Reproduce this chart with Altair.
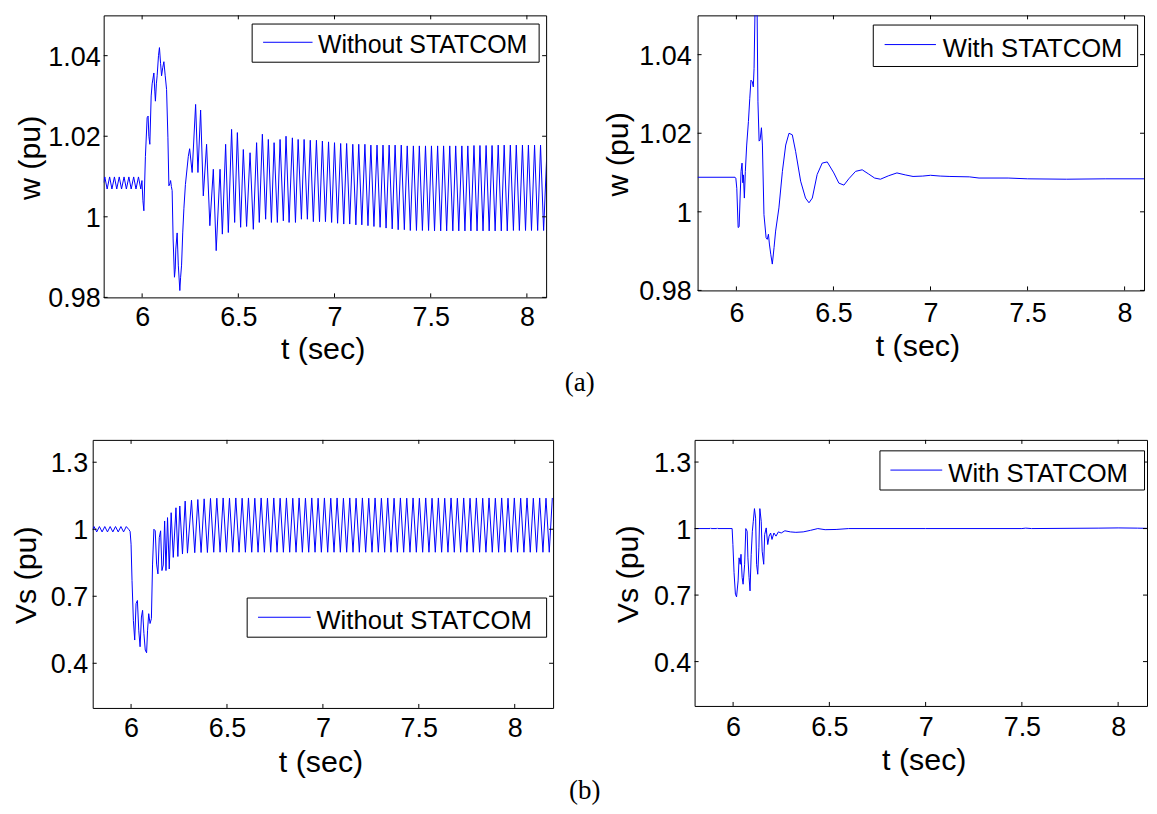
import altair as alt
import pandas as pd

# ---------------- values ----------------
X_TICKS = [6, 6.5, 7, 7.5, 8]
W_TICKS = [0.98, 1.0, 1.02, 1.04]
VS_TICKS = [0.4, 0.7, 1.0, 1.3]
LABEL_WITHOUT = "Without STATCOM"
LABEL_WITH = "With STATCOM"

# (a) left: rotor speed w (pu) without STATCOM  -- (t, w) turning points
w_without = [
    (5.800, 1.0085), (5.806, 1.0099), (5.818, 1.0069), (5.831, 1.0099), (5.843, 1.0069),
    (5.856, 1.0099), (5.868, 1.0069), (5.881, 1.0099), (5.893, 1.0069), (5.906, 1.0099),
    (5.918, 1.0069), (5.931, 1.0099), (5.943, 1.0069), (5.956, 1.0099), (5.968, 1.0069),
    (5.981, 1.0099), (5.993, 1.0069), (5.999, 1.0090),
    (6.004, 1.0040), (6.009, 1.0015), (6.017, 1.0150), (6.026, 1.0246), (6.031, 1.0250),
    (6.035, 1.0200), (6.040, 1.0180), (6.047, 1.0300), (6.052, 1.0330), (6.061, 1.0357),
    (6.066, 1.0310), (6.069, 1.0287), (6.074, 1.0330), (6.078, 1.0350), (6.085, 1.0400),
    (6.090, 1.0420), (6.096, 1.0380), (6.101, 1.0350), (6.107, 1.0370), (6.113, 1.0385),
    (6.120, 1.0350), (6.127, 1.0316), (6.134, 1.0196), (6.139, 1.0077), (6.144, 1.0082),
    (6.148, 1.0090), (6.152, 1.0075), (6.156, 1.0065), (6.161, 0.9945), (6.168, 0.9850),
    (6.172, 0.9870), (6.175, 0.9920), (6.182, 0.9960), (6.185, 0.9920), (6.188, 0.9880),
    (6.196, 0.9817), (6.200, 0.9850), (6.205, 0.9880), (6.211, 0.9960), (6.217, 1.0020),
    (6.225, 1.0080), (6.240, 1.0150), (6.247, 1.0169), (6.260, 1.0110), (6.278, 1.0279),
    (6.290, 1.0110), (6.304, 1.0265), (6.318, 1.0052), (6.335, 1.0180), (6.352, 0.9978),
    (6.370, 1.0118), (6.385, 0.9916), (6.405, 1.0118), (6.417, 0.9957), (6.434, 1.0180),
    (6.448, 0.9961), (6.465, 1.0217), (6.481, 0.9986), (6.495, 1.0209), (6.512, 0.9974),
    (6.526, 1.0167), (6.543, 0.9976), (6.561, 1.0159), (6.578, 0.9969), (6.595, 1.0184),
    (6.609, 0.9986), (6.625, 1.0205), (6.642, 0.9994), (6.656, 1.0192), (6.672, 0.9986),
    (6.686, 1.0184), (6.703, 0.9986), (6.717, 1.0192), (6.734, 0.9990), (6.748, 1.0200),
    (6.764, 0.9986), (6.781, 1.0196), (6.797, 0.9986), (6.811, 1.0192), (6.828, 0.9994),
    (6.842, 1.0192), (6.859, 0.9994), (6.874, 1.0190), (6.890, 0.9988), (6.906, 1.0190),
    (6.922, 0.9988), (6.937, 1.0188), (6.953, 0.9988), (6.969, 1.0186), (6.985, 0.9986),
    (7.000, 1.0184), (7.016, 0.9984), (7.032, 1.0182), (7.048, 0.9982), (7.063, 1.0182),
    (7.079, 0.9982), (7.095, 1.0180), (7.111, 0.9980), (7.126, 1.0180), (7.142, 0.9980),
    (7.158, 1.0180), (7.174, 0.9978), (7.189, 1.0178), (7.205, 0.9976), (7.221, 1.0178),
    (7.237, 0.9974), (7.252, 1.0178), (7.268, 0.9972), (7.284, 1.0178), (7.300, 0.9970),
    (7.315, 1.0178), (7.331, 0.9968), (7.347, 1.0178), (7.363, 0.9968), (7.378, 1.0176),
    (7.394, 0.9966), (7.410, 1.0176), (7.426, 0.9966), (7.441, 1.0176), (7.457, 0.9966),
    (7.473, 1.0176), (7.489, 0.9966), (7.504, 1.0176), (7.520, 0.9965), (7.536, 1.0176),
    (7.552, 0.9965), (7.567, 1.0176), (7.583, 0.9965), (7.599, 1.0176), (7.615, 0.9965),
    (7.630, 1.0176), (7.646, 0.9965), (7.662, 1.0176), (7.678, 0.9965), (7.693, 1.0176),
    (7.709, 0.9965), (7.725, 1.0177), (7.741, 0.9965), (7.756, 1.0177), (7.772, 0.9965),
    (7.788, 1.0177), (7.804, 0.9965), (7.819, 1.0177), (7.835, 0.9965), (7.851, 1.0178),
    (7.867, 0.9965), (7.882, 1.0178), (7.898, 0.9965), (7.914, 1.0178), (7.930, 0.9966),
    (7.945, 1.0178), (7.961, 0.9966), (7.977, 1.0178), (7.993, 0.9966), (8.008, 1.0178),
    (8.024, 0.9966), (8.040, 1.0178), (8.056, 0.9966), (8.071, 1.0178), (8.087, 0.9966),
    (8.103, 1.0150),
]

# (a) right: rotor speed w (pu) with STATCOM
w_with = [
    (5.800, 1.0088), (5.993, 1.0088), (5.997, 1.0086), (6.002, 1.0060), (6.009, 0.9960),
    (6.014, 0.9962), (6.019, 1.0035), (6.024, 1.0103), (6.029, 1.0124), (6.033, 1.0074),
    (6.036, 1.0094), (6.041, 1.0035), (6.046, 1.0103), (6.053, 1.0170), (6.062, 1.0230),
    (6.069, 1.0289), (6.075, 1.0335), (6.082, 1.0331), (6.087, 1.0318), (6.091, 1.0365),
    (6.098, 1.0580), (6.105, 1.0600), (6.111, 1.0280), (6.117, 1.0180), (6.122, 1.0183),
    (6.129, 1.0214), (6.134, 1.0170), (6.142, 0.9993), (6.153, 0.9934), (6.159, 0.9930),
    (6.165, 0.9943), (6.170, 0.9918), (6.177, 0.9892), (6.185, 0.9867), (6.194, 0.9909),
    (6.202, 0.9951), (6.219, 1.0010), (6.237, 1.0103), (6.254, 1.0170), (6.271, 1.0200),
    (6.288, 1.0196), (6.305, 1.0154), (6.331, 1.0078), (6.356, 1.0035), (6.374, 1.0023),
    (6.391, 1.0035), (6.416, 1.0095), (6.442, 1.0124), (6.468, 1.0127), (6.502, 1.0099),
    (6.528, 1.0073), (6.554, 1.0068), (6.579, 1.0084), (6.614, 1.0103), (6.648, 1.0107),
    (6.682, 1.0096), (6.712, 1.0086), (6.742, 1.0083), (6.785, 1.0092), (6.827, 1.0099),
    (6.870, 1.0094), (6.910, 1.0090), (6.960, 1.0091), (7.000, 1.0093), (7.050, 1.0091),
    (7.100, 1.0090), (7.200, 1.0089), (7.250, 1.0086), (7.400, 1.0086), (7.500, 1.0084),
    (7.700, 1.0083), (7.900, 1.0084), (8.100, 1.0084),
]

# (b) left: terminal voltage Vs (pu) without STATCOM
vs_without = [
    (5.800, 0.995), (5.807, 1.012), (5.821, 0.988), (5.835, 1.012), (5.849, 0.988),
    (5.863, 1.012), (5.877, 0.988), (5.891, 1.012), (5.905, 0.988), (5.919, 1.012),
    (5.933, 0.988), (5.947, 1.012), (5.961, 0.988), (5.975, 1.012), (5.989, 0.998),
    (5.995, 0.990), (6.000, 0.933), (6.005, 0.770), (6.012, 0.592), (6.019, 0.504),
    (6.026, 0.667), (6.033, 0.681), (6.040, 0.548), (6.047, 0.474), (6.054, 0.607),
    (6.060, 0.637), (6.067, 0.533), (6.074, 0.459), (6.081, 0.447), (6.086, 0.548),
    (6.092, 0.622), (6.099, 0.578), (6.106, 0.600), (6.112, 0.844), (6.119, 1.000),
    (6.126, 0.993), (6.133, 0.844), (6.140, 0.800), (6.147, 0.963), (6.154, 0.993),
    (6.161, 0.815), (6.168, 0.840), (6.175, 1.037), (6.182, 0.815), (6.190, 1.052),
    (6.199, 0.822), (6.209, 1.074), (6.220, 0.874), (6.234, 1.096), (6.244, 0.878),
    (6.254, 1.104), (6.268, 0.889), (6.282, 1.126), (6.294, 0.893),
    (6.315, 1.130), (6.332, 0.895), (6.348, 1.133), (6.365, 0.896), (6.381, 1.136),
    (6.398, 0.896), (6.414, 1.138), (6.431, 0.897), (6.447, 1.139), (6.464, 0.897),
    (6.480, 1.140), (6.497, 0.897), (6.513, 1.139), (6.530, 0.897), (6.546, 1.140),
    (6.563, 0.897), (6.579, 1.139), (6.596, 0.897), (6.612, 1.140), (6.629, 0.897),
    (6.645, 1.139), (6.662, 0.897), (6.678, 1.140), (6.695, 0.897), (6.711, 1.139),
    (6.728, 0.897), (6.744, 1.140), (6.761, 0.897), (6.777, 1.139), (6.794, 0.897),
    (6.810, 1.140), (6.827, 0.897), (6.843, 1.139), (6.860, 0.897), (6.876, 1.140),
    (6.893, 0.897), (6.909, 1.139), (6.926, 0.897), (6.942, 1.140), (6.959, 0.897),
    (6.975, 1.139), (6.992, 0.897), (7.008, 1.140), (7.025, 0.897), (7.041, 1.139),
    (7.058, 0.897), (7.074, 1.140), (7.091, 0.897), (7.107, 1.139), (7.124, 0.897),
    (7.140, 1.140), (7.157, 0.897), (7.173, 1.139), (7.190, 0.897), (7.206, 1.140),
    (7.223, 0.897), (7.239, 1.139), (7.256, 0.897), (7.272, 1.140), (7.289, 0.897),
    (7.305, 1.139), (7.322, 0.897), (7.338, 1.140), (7.355, 0.897), (7.371, 1.139),
    (7.388, 0.897), (7.404, 1.140), (7.421, 0.897), (7.437, 1.139), (7.454, 0.897),
    (7.470, 1.140), (7.487, 0.897), (7.503, 1.139), (7.520, 0.897), (7.536, 1.140),
    (7.553, 0.897), (7.569, 1.139), (7.586, 0.897), (7.602, 1.140), (7.619, 0.897),
    (7.635, 1.139), (7.652, 0.897), (7.668, 1.140), (7.685, 0.897), (7.701, 1.139),
    (7.718, 0.897), (7.734, 1.140), (7.751, 0.897), (7.767, 1.139), (7.784, 0.897),
    (7.800, 1.140), (7.817, 0.897), (7.833, 1.139), (7.850, 0.897), (7.866, 1.140),
    (7.883, 0.897), (7.899, 1.139), (7.916, 0.897), (7.932, 1.140), (7.949, 0.897),
    (7.965, 1.139), (7.982, 0.897), (7.998, 1.140), (8.015, 0.897), (8.031, 1.139),
    (8.048, 0.897), (8.064, 1.140), (8.081, 0.897), (8.097, 1.139), (8.114, 0.897),
    (8.130, 1.140), (8.147, 0.897), (8.163, 1.139), (8.180, 0.897), (8.196, 1.140),
]

# (b) right: terminal voltage Vs (pu) with STATCOM
vs_with = [
    (5.800, 1.000), (5.880, 1.000), (5.883, 1.003), (5.886, 1.000), (5.915, 1.000),
    (5.918, 1.003), (5.921, 1.000), (5.995, 1.000), (5.999, 0.928), (6.005, 0.801),
    (6.012, 0.704), (6.018, 0.692), (6.026, 0.764), (6.031, 0.868), (6.037, 0.839),
    (6.041, 0.884), (6.047, 0.779), (6.052, 0.749), (6.060, 0.839), (6.066, 1.000),
    (6.073, 0.988), (6.077, 0.868), (6.083, 0.779), (6.088, 0.719), (6.094, 0.884),
    (6.100, 0.988), (6.105, 1.033), (6.111, 1.090), (6.117, 1.047), (6.122, 0.839),
    (6.128, 0.794), (6.134, 0.913), (6.139, 1.090), (6.146, 1.033), (6.151, 0.898),
    (6.159, 0.839), (6.164, 0.973), (6.172, 1.003), (6.180, 0.928), (6.187, 0.966),
    (6.195, 0.980), (6.202, 0.951), (6.212, 0.980), (6.223, 0.966), (6.235, 0.985),
    (6.250, 0.980), (6.269, 0.990), (6.298, 0.985), (6.326, 0.983), (6.364, 0.985),
    (6.402, 0.992), (6.440, 1.000), (6.478, 0.995), (6.535, 0.996), (6.600, 1.000),
    (7.000, 1.000), (7.500, 1.000), (7.520, 1.002), (7.550, 1.000), (7.900, 1.002),
    (8.000, 1.003), (8.100, 1.002), (8.200, 1.000),
]

# ---------------- styling ----------------
BLUE = "#0000ff"
SANS = "Liberation Sans"
SERIF = "Liberation Serif"


def frame_rules(w, h, ext):
    """Invisible rules that pin a view's layout extent (left, right, top, bottom)."""
    fr = alt.Chart(pd.DataFrame({"k": [0]}))
    return [
        fr.mark_rule(strokeWidth=0, opacity=0).encode(
            x=alt.value(-ext[0]), x2=alt.value(w + ext[1]), y=alt.value(h / 2)),
        fr.mark_rule(strokeWidth=0, opacity=0).encode(
            y=alt.value(-ext[2]), y2=alt.value(h + ext[3]), x=alt.value(w / 2)),
    ]


def panel(points, label, xdom, ydom, yticks, ytitle, w, h, lay):
    df = pd.DataFrame(points, columns=["t", "v"])
    df["i"] = range(len(df))
    xs = alt.Scale(domain=xdom, nice=False, zero=False)
    ys = alt.Scale(domain=ydom, nice=False, zero=False)
    xax = alt.Axis(values=X_TICKS, format="~g", title="t (sec)", domain=False, ticks=False,
                   grid=False, labelPadding=lay["xlp"], labelFlush=False, labelOverlap=False,
                   titleX=lay["xtx"], titleY=lay["xty"], titleBaseline="top", titleAlign="center")
    yax = alt.Axis(values=yticks, format="~g", title=ytitle, domain=False, ticks=False,
                   grid=False, labelPadding=lay["ylp"], labelOffset=1.5, labelFlush=False,
                   labelOverlap=False, titleX=lay["ytx"], titleY=h / 2 + 1, titleAngle=270,
                   titleBaseline="bottom", titleAlign="center")
    line = alt.Chart(df).mark_line(color=BLUE, strokeWidth=1, clip=True).encode(
        x=alt.X("t:Q", scale=xs, axis=xax),
        y=alt.Y("v:Q", scale=ys, axis=yax),
        order=alt.Order("i:Q"),
    )
    # MATLAB-style inward ticks on all four sides
    xt = alt.Chart(pd.DataFrame({"t": X_TICKS}))
    yt = alt.Chart(pd.DataFrame({"v": yticks}))
    tk = dict(color="black", strokeWidth=1)
    ticks = [
        xt.mark_rule(**tk).encode(x="t:Q", y=alt.value(h - 4), y2=alt.value(h)),
        xt.mark_rule(**tk).encode(x="t:Q", y=alt.value(0), y2=alt.value(4)),
        yt.mark_rule(**tk).encode(y="v:Q", x=alt.value(0), x2=alt.value(4)),
        yt.mark_rule(**tk).encode(y="v:Q", x=alt.value(w - 4), x2=alt.value(w)),
    ]
    # legend box
    lb = alt.Chart(pd.DataFrame({"label": [label]}))
    box = lb.mark_rect(fill="white", stroke="black", strokeWidth=1).encode(
        x=alt.value(lay["bx0"]), x2=alt.value(lay["bx1"]),
        y=alt.value(lay["by0"]), y2=alt.value(lay["by1"]))
    sym = lb.mark_rule(color=BLUE, strokeWidth=1).encode(
        x=alt.value(lay["lx0"]), x2=alt.value(lay["lx1"]), y=alt.value(lay["ly"]))
    txt = lb.mark_text(align="left", baseline="middle", font=SANS, fontSize=lay["fs"],
                       color="black").encode(
        x=alt.value(lay["tx"]), y=alt.value(lay["ty"]), text="label:N")
    return alt.layer(line, *ticks, box, sym, txt, *frame_rules(w, h, lay["ext"])).properties(
        width=w, height=h)


def spacer():
    sp = alt.Chart(pd.DataFrame({"k": [0]})).mark_rule(strokeWidth=0, opacity=0).encode(
        x=alt.value(0), x2=alt.value(1), y=alt.value(0))
    return sp.properties(width=1, height=1,
                         view=alt.ViewBackground(stroke="transparent", strokeWidth=0))


p1 = panel(w_without, LABEL_WITHOUT, [5.8, 8.1], [0.98, 1.05], W_TICKS, "w (pu)", 444, 283,
           dict(xlp=7.2, xtx=219.7, xty=37.8, ylp=3.5, ytx=-58.2,
                bx0=149, bx1=437, by0=8.7, by1=47, lx0=160, lx1=209.6, ly=27,
                tx=215, ty=30.2, fs=25, ext=(94, 2, 2, 70)))
p2 = panel(w_with, LABEL_WITH, [5.8, 8.1], [0.98, 1.05], W_TICKS, "w (pu)", 448, 276,
           dict(xlp=10.0, xtx=220.6, xty=41.5, ylp=6.5, ytx=-64,
                bx0=176.3, bx1=441.6, by0=9.7, by1=51.3, lx0=187.7, lx1=239.2, ly=29.3,
                tx=246, ty=33.5, fs=25.7, ext=(148, 2, 2, 77)))
p3 = panel(vs_without, LABEL_WITHOUT, [5.8, 8.2], [0.2, 1.4], VS_TICKS, "Vs (pu)", 462, 269,
           dict(xlp=7.7, xtx=228.6, xty=39.6, ylp=5, ytx=-51.8,
                bx0=155, bx1=455.5, by0=158.7, by1=198, lx0=165.9, lx1=218.8, ly=178,
                tx=224.5, ty=181.8, fs=25.7, ext=(83, 2, 2, 70)))
p4 = panel(vs_with, LABEL_WITH, [5.8, 8.15], [0.2, 1.4], VS_TICKS, "Vs (pu)", 454, 267,
           dict(xlp=9.0, xtx=230, xty=40.0, ylp=3.8, ytx=-50.9,
                bx0=186, bx1=451.5, by0=11, by1=50.3, lx0=196.5, lx1=248.5, ly=30.3,
                tx=254.5, ty=34.3, fs=25.7, ext=(138, 1, 2, 72)))

cap = dict(orient="bottom", anchor="middle", font=SERIF, fontWeight="normal",
           color="black", baseline="top", fontSize=27)
row1 = alt.hconcat(spacer(), p1, p2, spacing=0,
                   title=alt.TitleParams("(a)", offset=2.6, dx=2.5, **cap))
row2 = alt.hconcat(spacer(), p3, p4, spacing=0,
                   title=alt.TitleParams("(b)", offset=0, dx=6.5, **cap))

chart = (
    alt.vconcat(row1, row2, spacing=40)
    .configure_view(stroke="black", strokeWidth=1)
    .configure_axis(labelFont=SANS, labelFontSize=27, labelColor="black",
                    titleFont=SANS, titleFontSize=30.5, titleFontWeight="normal",
                    titleColor="black")
    .properties(padding={"left": 0, "top": 3, "right": 0, "bottom": 0},
                background="white")
)

chart.save("out.html", embed_options={"renderer": "svg", "actions": False})
